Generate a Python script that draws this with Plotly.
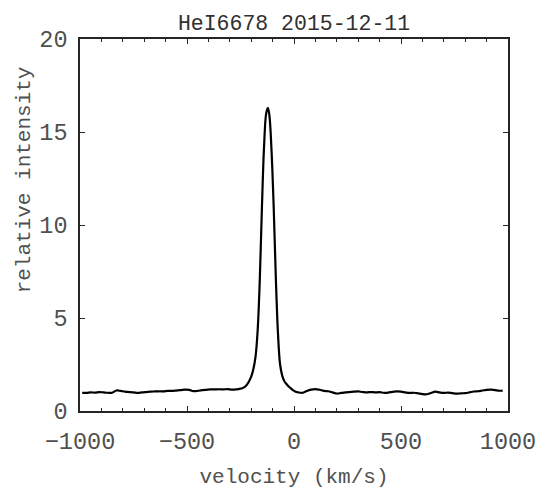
import plotly.graph_objects as go

velocity = [-990, -970, -950, -930, -910, -890, -870, -850, -830, -810, -790, -770,
            -750, -730, -710, -690, -670, -650, -630, -610, -590, -570, -550, -530,
            -510, -490, -470, -450, -430, -410, -390, -370, -350, -330, -310, -290,
            -270, -250, -240, -230, -220, -210, -200, -190, -180, -170, -160, -150,
            -140, -130, -122, -115, -105, -95, -85, -75, -65, -55, -45, -35, -25,
            -15, -5, 5, 20, 40, 60, 80, 100, 120, 140, 160, 180, 200, 220, 240, 260,
            280, 300, 320, 340, 360, 380, 400, 420, 440, 460, 480, 500, 520, 540,
            560, 580, 600, 620, 640, 660, 680, 700, 720, 740, 760, 780, 800, 820,
            840, 860, 880, 900, 920, 940, 960, 975]
intensity = [0.98, 0.97, 1.00, 0.99, 1.02, 1.00, 0.98, 0.98, 1.10, 1.08, 1.04, 1.02,
             1.00, 0.97, 1.00, 1.02, 1.04, 1.05, 1.06, 1.06, 1.08, 1.08, 1.10, 1.12,
             1.15, 1.14, 1.07, 1.08, 1.12, 1.14, 1.16, 1.16, 1.17, 1.16, 1.18, 1.15,
             1.16, 1.20, 1.24, 1.30, 1.42, 1.60, 1.85, 2.25, 2.9, 4.3, 7.0, 10.9,
             14.2, 16.0, 16.3, 15.9, 14.0, 11.0, 7.2, 4.2, 2.5, 1.9, 1.6, 1.45, 1.32,
             1.22, 1.12, 1.05, 1.00, 0.98, 1.08, 1.15, 1.18, 1.14, 1.08, 1.06, 1.00,
             0.94, 0.97, 1.00, 1.02, 1.04, 1.05, 1.02, 1.00, 1.02, 1.00, 1.01, 0.98,
             0.99, 1.03, 1.05, 1.04, 1.00, 0.97, 0.98, 0.95, 0.91, 0.90, 0.97, 1.04,
             1.00, 0.97, 0.99, 0.96, 0.93, 0.95, 0.96, 1.00, 1.05, 1.06, 1.10, 1.14,
             1.15, 1.12, 1.09, 1.10]

title_text = "HeI6678 2015-12-11"
x_label = "velocity (km/s)"
y_label = "relative intensity"
x_ticks = [-1000, -500, 0, 500, 1000]
y_ticks = [0, 5, 10, 15, 20]

FONT = "Liberation Mono, Courier New, monospace"
AX = "#262626"
TXT = "#505050"

fig = go.Figure()
fig.add_trace(go.Scatter(x=velocity, y=intensity, mode="lines",
                         line=dict(color="black", width=2.2), line_shape="spline",
                         showlegend=False, hoverinfo="skip"))

axis_common = dict(showline=True, linecolor=AX, linewidth=1.5, mirror="allticks",
                   ticks="inside", tickcolor=AX, tickwidth=1, showgrid=False,
                   zeroline=False, automargin=False,
                   tickfont=dict(family=FONT, size=23.5, color=TXT))

fig.update_xaxes(range=[-1000, 1000], tickvals=x_ticks, ticklen=5, ticklabelstandoff=8,
                 minor=dict(dtick=100, ticks="inside", ticklen=3, tickcolor=AX, showgrid=False),
                 title=dict(text=x_label, font=dict(family=FONT, size=21, color=TXT), standoff=13),
                 **axis_common)
fig.update_yaxes(range=[0, 20], tickvals=y_ticks, ticklen=5, ticklabelstandoff=6,
                 **axis_common)

# y-axis label placed as in the reference (shifted above the axis centre)
fig.add_annotation(text=y_label, xref="paper", yref="paper", x=0, y=0.62,
                   xshift=-56, xanchor="center", yanchor="middle", textangle=-90,
                   showarrow=False, font=dict(family=FONT, size=21, color=TXT))

fig.update_layout(width=545, height=489, margin=dict(l=80, r=37, t=38.5, b=78),
                  paper_bgcolor="white", plot_bgcolor="white",
                  title=dict(text=title_text, x=0.5, xanchor="center", xref="paper",
                             y=1 - 22 / 489, yanchor="middle",
                             font=dict(family=FONT, size=21.5, color="#303030")))

fig.write_html("out.html")
